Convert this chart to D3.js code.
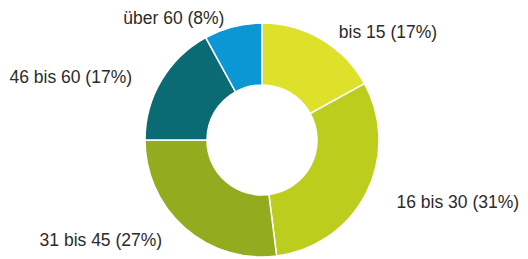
<!DOCTYPE html>
<html>
<head>
<meta charset="utf-8">
<script src="https://cdn.jsdelivr.net/npm/d3@7"></script>
<style>
  body { margin: 0; background: #fff; }
  text { font-family: "Liberation Sans", Arial, sans-serif; fill: #2b2b2b; }
</style>
</head>
<body>
<svg id="chart" width="528" height="259"></svg>
<script>
// age groups and their shares (percent)
const labels = ["bis 15", "16 bis 30", "31 bis 45", "46 bis 60", "über 60"]
const shares = [17, 31, 27, 17, 8]
const colors = ["#dde12a", "#bccd1e", "#93ab1f", "#0b6b74", "#0b97d3"]

const svg = d3.select("#chart")
const cx = 262, cy = 140
const outerR = 117, innerR = 55

const pie = d3.pie().sort(null).value(d => d)
const arcs = pie(shares)
const arc = d3.arc().innerRadius(innerR).outerRadius(outerR)

const g = svg.append("g").attr("transform", `translate(${cx},${cy})`)

g.selectAll("path")
  .data(arcs)
  .enter().append("path")
  .attr("d", arc)
  .attr("fill", (d, i) => colors[i])
  .attr("stroke", "#fff")
  .attr("stroke-width", 1.5)

// labels on an ellipse round the donut, a little lower than its centre
const rx = 151, ry = 129, dyLabel = 3
const mid = d => (d.startAngle + d.endAngle) / 2
g.selectAll("text")
  .data(arcs)
  .enter().append("text")
  .attr("x", d => rx * Math.sin(mid(d)))
  .attr("y", d => dyLabel - ry * Math.cos(mid(d)))
  .attr("dy", "0.35em")
  .attr("text-anchor", d => mid(d) < Math.PI ? "start" : "end")
  .style("font-size", "17.5px")
  .text((d, i) => `${labels[i]} (${shares[i]}%)`)
</script>
</body>
</html>
